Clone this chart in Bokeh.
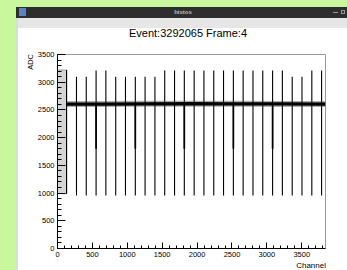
from bokeh.plotting import figure
from bokeh.models import Range1d, FixedTicker, Div
from bokeh.layouts import column, row
from bokeh.embed import file_html
from bokeh.resources import INLINE

# ---- data ----
spike_channels = [130, 272, 412, 553, 693, 834, 974, 1115, 1255, 1396, 1536, 1677, 1817, 1958,
                  2098, 2239, 2379, 2520, 2660, 2801, 2941, 3082, 3222, 3363, 3503, 3644, 3784]
spike_tops = [3220, 3100, 3100, 3210, 3210, 3100, 3100, 3100, 3100, 3100, 3210, 3210, 3210, 3210,
              3210, 3210, 3210, 3210, 3210, 3210, 3210, 3210, 3210, 3100, 3100, 3210, 3210]
spike_bottoms = [990, 955, 955, 955, 955, 955, 955, 955, 955, 955, 955, 955, 955, 955,
                 955, 955, 955, 955, 955, 955, 955, 955, 955, 955, 955, 955, 955]
dark_channels = [553, 1115, 1817, 2520, 3082]
dark_lows = [1800, 1800, 1800, 1800, 1800]
dark_highs = [2600, 2600, 2600, 2600, 2600]
baseline_channels = [130, 640, 1280, 1920, 2560, 3200, 3840]
baseline_adc = [2605, 2605, 2610, 2612, 2610, 2608, 2605]
block_left = [0]
block_right = [130]
block_bottom = [990]
block_top = [3220]
y_ticks = [0, 500, 1000, 1500, 2000, 2500, 3000, 3500]
x_ticks = [0, 500, 1000, 1500, 2000, 2500, 3000, 3500]
minor_x = list(range(0, 3900, 100))
minor_y = list(range(0, 3600, 100))
title_text = "Event:3292065 Frame:4"
window_title = "histos"
x_title = "Channel"
y_title = "ADC"

FONT = "Liberation Sans"
GREEN = "#c8f79d"

p = figure(width=313, height=214, output_backend="svg", toolbar_location=None,
           x_range=Range1d(0, 3840), y_range=Range1d(0, 3500),
           min_border_left=20, min_border_right=22, min_border_top=8, min_border_bottom=12,
           margin=(0, 0, 0, 0))
p.border_fill_color = "white"
p.background_fill_color = "white"
p.outline_line_color = "#999999"
p.xgrid.visible = False
p.ygrid.visible = False

# grey block of the first channels
p.quad(left=block_left, right=block_right, bottom=block_bottom, top=block_top,
       fill_color="#d4d4d4", line_color="#888888", line_width=0.8)
# spikes
p.segment(x0=spike_channels, y0=spike_bottoms, x1=spike_channels, y1=spike_tops,
          line_color="black", line_width=1.1)
p.segment(x0=dark_channels, y0=dark_lows, x1=dark_channels, y1=dark_highs,
          line_color="black", line_width=1.7)
# baseline (noisy band)
p.line(baseline_channels, baseline_adc, line_color="#333333", line_width=6, line_alpha=0.4)
p.line(baseline_channels, baseline_adc, line_color="black", line_width=3.2)

for ax, ticks, minors, tin, mtin in ((p.xaxis[0], x_ticks, minor_x, 6, 3),
                                     (p.yaxis[0], y_ticks, minor_y, 8, 4)):
    ax.ticker = FixedTicker(ticks=ticks, minor_ticks=minors)
    ax.major_tick_in = tin
    ax.major_tick_out = 0
    ax.minor_tick_in = mtin
    ax.minor_tick_out = 0
    ax.axis_line_color = "black"
    ax.major_tick_line_color = "black"
    ax.minor_tick_line_color = "black"
    ax.major_label_text_font = FONT
    ax.major_label_text_font_size = "7.5px"
    ax.major_label_text_color = "black"
    ax.major_label_standoff = 3

# window chrome and titles (HTML around the figure)
top_html = f'''<div style="position:relative;width:347px;height:46px;background:#ffffff;overflow:hidden;font-family:'{FONT}',sans-serif;">
<div style="position:absolute;left:0;top:0;width:347px;height:7px;background:{GREEN};"></div>
<div style="position:absolute;left:0;top:0;width:16px;height:46px;background:{GREEN};"></div>
<div style="position:absolute;left:16px;top:7px;width:331px;height:11px;background:#2e2e2e;"></div>
<div style="position:absolute;left:19px;top:8px;width:7px;height:8px;background:#5a84c0;"></div>
<div style="position:absolute;left:133px;top:7px;width:100px;height:11px;line-height:11px;text-align:center;font-size:6px;font-weight:bold;color:#bdbdbd;">{window_title}</div>
<div style="position:absolute;left:333px;top:12px;width:5px;height:1px;background:#999999;"></div>
<div style="position:absolute;left:341px;top:10px;width:4px;height:4px;border:1px solid #999999;"></div>
<div style="position:absolute;left:16px;top:18px;width:2px;height:28px;background:#dcdcdc;"></div>
<div style="position:absolute;left:18px;top:18px;width:329px;height:10px;background:#e6e6e6;"></div>
<div style="position:absolute;left:100px;top:27px;width:176px;height:12px;line-height:12px;text-align:center;font-size:11px;color:#000000;">{title_text}</div>
</div>'''
top = Div(text=top_html, width=347, height=46, margin=(0, 0, 0, 0))

side_html = f'''<div style="position:relative;width:34px;height:224px;overflow:hidden;background:#ffffff;font-family:'{FONT}',sans-serif;">
<div style="position:absolute;left:0;top:0;width:16px;height:224px;background:{GREEN};"></div>
<div style="position:absolute;left:16px;top:0;width:2px;height:224px;background:#dcdcdc;"></div>
<div style="position:absolute;left:26px;top:8px;line-height:9px;font-size:7.5px;color:#000000;writing-mode:vertical-rl;transform:rotate(180deg);white-space:nowrap;">{y_title}</div>
</div>'''
side = Div(text=side_html, width=34, height=224, margin=(0, 0, 0, 0))

bottom_html = f'''<div style="position:relative;width:313px;height:10px;overflow:hidden;background:#ffffff;font-family:'{FONT}',sans-serif;">
<div style="position:absolute;right:21px;top:0;line-height:8px;font-size:8px;color:#000000;white-space:nowrap;">{x_title}</div>
</div>'''
bottom = Div(text=bottom_html, width=313, height=10, margin=(0, 0, 0, 0))

layout = column(top,
                row(side, column(p, bottom, spacing=0, margin=(0, 0, 0, 0)),
                    spacing=0, margin=(0, 0, 0, 0)),
                spacing=0, margin=(0, 0, 0, 0))

open("out.html", "w").write(file_html(layout, INLINE))
